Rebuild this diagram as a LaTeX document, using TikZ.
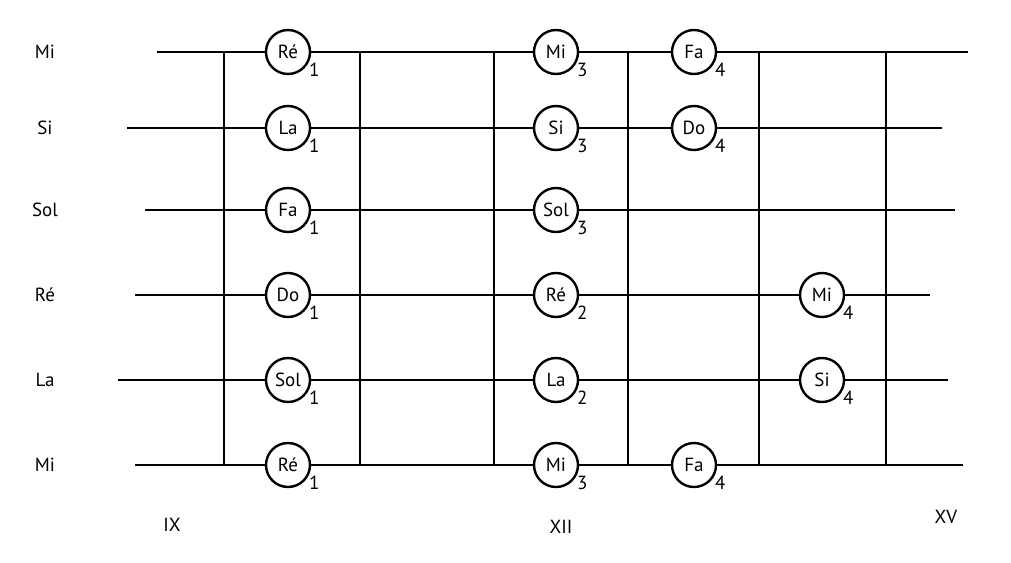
\documentclass[tikz,border=0pt]{standalone}
\usepackage{fontspec}
\setmainfont{PT Sans}
\begin{document}
\begin{tikzpicture}[x=1pt,y=-1pt,line width=2.4pt,
  note/.style={circle,draw,fill=white,minimum size=44pt,inner sep=0pt,font=\fontsize{19}{19}\selectfont},
  lbl/.style={font=\fontsize{19}{19}\selectfont},
  sub/.style={font=\fontsize{19}{19}\selectfont,anchor=north west,inner sep=0pt}]
\useasboundingbox (0,0) rectangle (1011,562);
% strings
\foreach \y/\a/\b/\t [count=\i] in {52/157/968/Mi,128/127/942/Si,210/145/955/Sol,295/135/930/Ré,380/118/948/La,465/135/963/Mi}{
  \node[lbl] (L\i) at (45,\y) {\t};
  \coordinate (s\i a) at (\a,\y);
  \coordinate (s\i b) at (\b,\y);
  \draw (s\i a) -- (s\i b);
}
% frets
\foreach \x [count=\j] in {224,360,494,628,759,886}{
  \coordinate (f\j t) at (\x,52);
  \coordinate (f\j b) at (\x,465);
  \draw (f\j t) -- (f\j b);
}
% notes
\foreach \x/\y/\t/\s [count=\k] in {
 288/52/Ré/1,288/128/La/1,288/210/Fa/1,288/295/Do/1,288/380/Sol/1,288/465/Ré/1,
 556/52/Mi/3,556/128/Si/3,556/210/Sol/3,556/295/Ré/2,556/380/La/2,556/465/Mi/3,
 694/52/Fa/4,694/128/Do/4,694/465/Fa/4,
 822/295/Mi/4,822/380/Si/4}{
  \node[note] (n\k) at (\x,\y) {\t};
  \node[sub] (d\k) at (\x+20,\y+10) {\s};
}
\node[lbl] (IX) at (172,525) {IX};
\node[lbl] (XII) at (561,527) {XII};
\node[lbl] (XV) at (946,517) {XV};
\end{tikzpicture}
\end{document}
